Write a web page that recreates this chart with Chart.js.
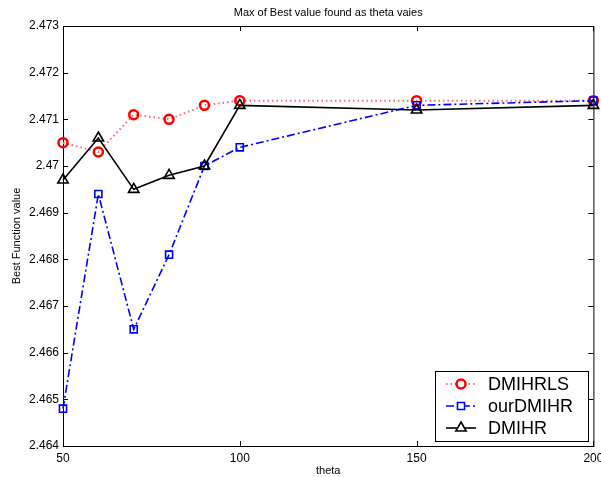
<!DOCTYPE html>
<html lang="en">
  <head>
    <meta charset="UTF-8" />
    <script src="https://cdn.jsdelivr.net/npm/chart.js@4.4.0/dist/chart.umd.min.js"></script>
    <title>theta chart</title>
    <style>
      body { margin: 0; background: #fff; }
    </style>
  </head>
  <body>
    <canvas id="myChart" width="601" height="477"></canvas>

    <script>
      // data
      const theta = [50, 60, 70, 80, 90, 100, 150, 200];
      const dmihrls = [2.4705, 2.4703, 2.4711, 2.4710, 2.4713, 2.4714, 2.4714, 2.4714];
      const ourDmihr = [2.4648, 2.4694, 2.4665, 2.4681, 2.4700, 2.4704, 2.4713, 2.4714];
      const dmihr = [2.4697, 2.4706, 2.4695, 2.4698, 2.4700, 2.4713, 2.4712, 2.4713];
      const xTicks = [50, 100, 150, 200];
      const yMin = 2.464, yMax = 2.473;

      const FONT = '"Liberation Sans", Arial, sans-serif';

      function pts(ys) {
        return theta.map((t, i) => ({ x: t, y: ys[i] }));
      }

      // matlab style frame, inward ticks, titles and legend
      const matlabLook = {
        id: 'matlabLook',
        beforeDatasetsDraw(chart) {
          const ctx = chart.ctx;
          const a = chart.chartArea;
          const xs = chart.scales.x, ys = chart.scales.y;
          ctx.save();
          ctx.strokeStyle = '#000';
          ctx.lineWidth = 1;
          ctx.strokeRect(a.left + 0.5, a.top + 0.5, a.right - a.left, a.bottom - a.top);
          ctx.beginPath();
          xs.ticks.forEach(t => {
            const px = Math.round(xs.getPixelForValue(t.value)) + 0.5;
            ctx.moveTo(px, a.bottom); ctx.lineTo(px, a.bottom - 5);
            ctx.moveTo(px, a.top); ctx.lineTo(px, a.top + 5);
          });
          ys.ticks.forEach(t => {
            const py = Math.round(ys.getPixelForValue(t.value)) + 0.5;
            ctx.moveTo(a.left, py); ctx.lineTo(a.left + 5, py);
            ctx.moveTo(a.right, py); ctx.lineTo(a.right - 5, py);
          });
          ctx.stroke();
          ctx.restore();
        },
        afterDatasetsDraw(chart) {
          const ctx = chart.ctx;
          const a = chart.chartArea;
          ctx.save();
          // titles
          ctx.fillStyle = '#000';
          ctx.font = '11px ' + FONT;
          ctx.textAlign = 'center';
          ctx.textBaseline = 'middle';
          ctx.fillText('Max of Best value found as theta vaies', (a.left + a.right) / 2, 13);
          ctx.fillText('theta', (a.left + a.right) / 2, 471);
          ctx.save();
          ctx.translate(17, (a.top + a.bottom) / 2);
          ctx.rotate(-Math.PI / 2);
          ctx.fillText('Best Function value', 0, 0);
          ctx.restore();

          // legend box, bottom right inside the axes
          const bx = 435, by = 371, bw = 153, bh = 70;
          ctx.fillStyle = '#fff';
          ctx.fillRect(bx, by, bw, bh);
          ctx.strokeStyle = '#000';
          ctx.lineWidth = 1;
          ctx.strokeRect(bx + 0.5, by + 0.5, bw, bh);
          ctx.font = '18px ' + FONT;
          ctx.textAlign = 'left';
          const rows = [384, 406, 428];
          chart.data.datasets.forEach((ds, i) => {
            const y = rows[i];
            ctx.save();
            ctx.strokeStyle = ds.borderColor;
            ctx.lineWidth = ds.borderWidth;
            ctx.setLineDash(ds.borderDash || []);
            ctx.beginPath();
            ctx.moveTo(446, y); ctx.lineTo(476, y);
            ctx.stroke();
            ctx.restore();
            ctx.save();
            ctx.strokeStyle = ds.pointBorderColor;
            ctx.fillStyle = '#fff';
            ctx.lineWidth = ds.pointBorderWidth;
            ctx.setLineDash([]);
            Chart.helpers.drawPoint(ctx, {
              pointStyle: ds.pointStyle,
              radius: ds.pointRadius,
              borderWidth: ds.pointBorderWidth
            }, 461, y);
            ctx.restore();
            ctx.fillStyle = '#000';
            ctx.fillText(ds.label, 488, y + 1);
          });
          ctx.restore();
        }
      };

      const fixScale = (w, h) => scale => {
        if (w) scale.width = w;
        if (h) scale.height = h;
        scale.paddingLeft = 0; scale.paddingRight = 0;
        scale.paddingTop = 0; scale.paddingBottom = 0;
      };

      const ctx = document.getElementById('myChart');
      const myChart = new Chart(ctx, {
        type: 'line',
        data: {
          datasets: [{
            label: 'DMIHRLS',
            data: pts(dmihrls),
            borderColor: '#ff6a6a',
            borderWidth: 2,
            borderDash: [1.5, 3],
            pointStyle: 'circle',
            pointRadius: 4.5,
            pointBorderWidth: 2.5,
            pointBorderColor: '#ff0000',
            pointBackgroundColor: 'rgba(0,0,0,0)',
            clip: false,
            order: 3
          }, {
            label: 'ourDMIHR',
            data: pts(ourDmihr),
            borderColor: '#0000ff',
            borderWidth: 1.6,
            borderDash: [8, 3, 2, 3],
            pointStyle: 'rect',
            pointRadius: 5,
            pointBorderWidth: 1.6,
            pointBorderColor: '#0000ff',
            pointBackgroundColor: 'rgba(0,0,0,0)',
            clip: false,
            order: 2
          }, {
            label: 'DMIHR',
            data: pts(dmihr),
            borderColor: '#000000',
            borderWidth: 1.6,
            pointStyle: 'triangle',
            pointRadius: 6,
            pointBorderWidth: 1.6,
            pointBorderColor: '#000000',
            pointBackgroundColor: 'rgba(0,0,0,0)',
            clip: false,
            order: 1
          }]
        },
        options: {
          responsive: false,
          animation: false,
          layout: { padding: { top: 26, right: 7, left: 0, bottom: 0 } },
          plugins: { legend: { display: false }, tooltip: { enabled: false } },
          elements: { line: { tension: 0, fill: false } },
          scales: {
            x: {
              type: 'linear',
              min: 50, max: 200,
              afterBuildTicks: s => { s.ticks = xTicks.map(v => ({ value: v })); },
              grid: { display: false, drawTicks: false },
              border: { display: false },
              ticks: { color: '#000', padding: 5, maxRotation: 0, font: { family: FONT, size: 12 } },
              afterFit: fixScale(0, 31)
            },
            y: {
              min: yMin, max: yMax,
              ticks: {
                stepSize: 0.001,
                color: '#000',
                padding: 4,
                font: { family: FONT, size: 12 },
                callback: v => String(parseFloat(v.toFixed(3)))
              },
              grid: { display: false, drawTicks: false },
              border: { display: false },
              afterFit: fixScale(63, 0)
            }
          }
        },
        plugins: [matlabLook]
      });
    </script>
  </body>
</html>
